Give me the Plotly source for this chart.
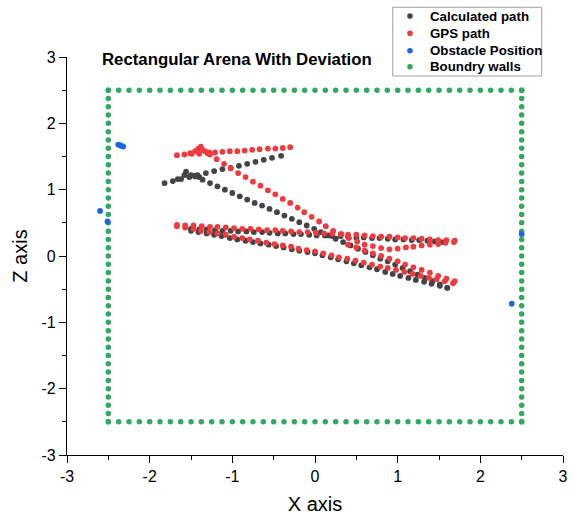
import plotly.graph_objects as go

# ---------------- data ----------------
wall_positions = [-2.5, -2.375, -2.25, -2.125, -2.0, -1.875, -1.75, -1.625, -1.5, -1.375,
                  -1.25, -1.125, -1.0, -0.875, -0.75, -0.625, -0.5, -0.375, -0.25, -0.125,
                  0.0, 0.125, 0.25, 0.375, 0.5, 0.625, 0.75, 0.875, 1.0, 1.125,
                  1.25, 1.375, 1.5, 1.625, 1.75, 1.875, 2.0, 2.125, 2.25, 2.375, 2.5]
wall_edge = 2.5

calc_x = [
    -1.82, -1.72, -1.62, -1.52, -1.42, -1.32, -1.22, -1.12, -1.02, -0.92, -0.82, -0.72, -0.62, -0.52, -0.41,
    -1.66, -1.58, -1.56, -1.50, -1.45, -1.40,
    -1.45, -1.36, -1.27, -1.18, -1.09, -1.00, -0.91, -0.82, -0.73, -0.64, -0.55, -0.46, -0.37, -0.28, -0.19,
    -0.10, -0.01, 0.07, 0.16, 0.25, 0.34, 0.43, 0.52, 0.61, 0.70, 0.79, 0.88, 0.97, 1.06, 1.15, 1.24, 1.33,
    1.42, 1.51, 1.60,
    -1.50, -1.40, -1.31, -1.21, -1.12, -1.02, -0.93, -0.83, -0.74, -0.64, -0.55, -0.45, -0.36, -0.26, -0.17,
    -0.07, 0.02, 0.12, 0.21, 0.31, 0.40, 0.50, 0.59, 0.69, 0.78, 0.88, 0.97, 1.07, 1.17, 1.26, 1.36, 1.45, 1.55,
    -1.50, -1.41, -1.31, -1.22, -1.13, -1.03, -0.94, -0.84, -0.75, -0.66, -0.56, -0.47, -0.38, -0.28, -0.19,
    -0.09, 0.00, 0.09, 0.19, 0.28, 0.38, 0.47, 0.56, 0.66, 0.75, 0.85, 0.94, 1.03, 1.13, 1.22, 1.32, 1.41,
    1.51, 1.60,
]
calc_z = [
    1.10, 1.13, 1.16, 1.19, 1.22, 1.25, 1.28, 1.31, 1.33, 1.36, 1.39, 1.42, 1.45, 1.48, 1.51,
    1.16, 1.22, 1.27, 1.22, 1.21, 1.19,
    1.20, 1.15, 1.10, 1.05, 1.00, 0.95, 0.90, 0.85, 0.80, 0.76, 0.71, 0.66, 0.61, 0.56, 0.51,
    0.46, 0.41, 0.36, 0.31, 0.26, 0.21, 0.16, 0.11, 0.06, 0.01, -0.04, -0.08, -0.13, -0.18, -0.23, -0.28, -0.33,
    -0.38, -0.43, -0.48,
    0.41, 0.40, 0.40, 0.39, 0.38, 0.38, 0.37, 0.37, 0.36, 0.36, 0.35, 0.34, 0.34, 0.33, 0.33,
    0.32, 0.31, 0.31, 0.30, 0.30, 0.29, 0.28, 0.28, 0.27, 0.27, 0.26, 0.25, 0.25, 0.24, 0.24, 0.23, 0.22, 0.21,
    0.38, 0.36, 0.34, 0.32, 0.30, 0.27, 0.25, 0.23, 0.21, 0.19, 0.17, 0.15, 0.13, 0.10, 0.08,
    0.06, 0.04, 0.01, -0.02, -0.05, -0.08, -0.11, -0.14, -0.17, -0.20, -0.24, -0.27, -0.30, -0.33, -0.36, -0.39,
    -0.42, -0.45, -0.48,
]

gps_x = [
    -1.67, -1.58, -1.49, -1.40, -1.30, -1.21, -1.12, -1.03, -0.94, -0.85, -0.76, -0.67, -0.57, -0.48, -0.39, -0.30,
    -1.51, -1.45, -1.41, -1.38, -1.36, -1.33, -1.28,
    -1.27, -1.19, -1.10, -1.02, -0.93, -0.84, -0.75, -0.66, -0.57, -0.48, -0.39, -0.30, -0.21, -0.13, -0.04,
    0.05, 0.13, 0.22, 0.32, 0.41, 0.51, 0.60, 0.70, 0.80, 0.90, 1.00, 1.10, 1.19, 1.29, 1.39, 1.49, 1.58, 1.68,
    -1.67, -1.57, -1.47, -1.37, -1.27, -1.18, -1.08, -0.98, -0.88, -0.78, -0.68, -0.58, -0.48, -0.39, -0.29,
    -0.19, -0.09, 0.01, 0.11, 0.21, 0.31, 0.40, 0.50, 0.60, 0.70, 0.80, 0.90, 1.00, 1.09, 1.19, 1.29, 1.39,
    1.49, 1.59, 1.69,
    -1.67, -1.57, -1.47, -1.38, -1.28, -1.18, -1.08, -0.98, -0.88, -0.79, -0.69, -0.59, -0.49, -0.39, -0.29,
    -0.20, -0.10, 0.00, 0.10, 0.20, 0.29, 0.39, 0.49, 0.59, 0.69, 0.79, 0.88, 0.98, 1.08, 1.18, 1.28, 1.38,
    1.47, 1.57, 1.67,
    0.40, 0.50, 0.60, 0.70, 0.80, 0.90, 1.00, 1.09, 1.19, 1.29, 1.39, 1.49, 1.59, 1.69,
]
gps_z = [
    1.52, 1.53, 1.54, 1.54, 1.55, 1.56, 1.57, 1.58, 1.58, 1.59, 1.60, 1.61, 1.62, 1.62, 1.63, 1.64,
    1.55, 1.58, 1.62, 1.65, 1.60, 1.58, 1.56,
    1.53, 1.46, 1.39, 1.32, 1.25, 1.19, 1.12, 1.06, 0.99, 0.93, 0.86, 0.80, 0.73, 0.66, 0.59,
    0.52, 0.45, 0.38, 0.33, 0.27, 0.22, 0.17, 0.15, 0.12, 0.10, 0.11, 0.13, 0.14, 0.16, 0.17, 0.18, 0.20, 0.21,
    0.47, 0.46, 0.46, 0.45, 0.44, 0.44, 0.43, 0.42, 0.41, 0.41, 0.40, 0.39, 0.39, 0.38, 0.37,
    0.36, 0.36, 0.35, 0.34, 0.34, 0.33, 0.32, 0.32, 0.31, 0.30, 0.29, 0.29, 0.28, 0.27, 0.27, 0.26, 0.25,
    0.24, 0.24, 0.23,
    0.45, 0.43, 0.41, 0.38, 0.36, 0.34, 0.32, 0.29, 0.27, 0.25, 0.23, 0.20, 0.18, 0.16, 0.14,
    0.11, 0.09, 0.07, 0.04, 0.01, -0.02, -0.04, -0.07, -0.10, -0.13, -0.16, -0.18, -0.21, -0.24, -0.27, -0.30,
    -0.33, -0.35, -0.38, -0.41,
    0.17, 0.13, 0.08, 0.04, 0.00, -0.04, -0.08, -0.13, -0.17, -0.21, -0.25, -0.30, -0.34, -0.38,
]

obstacle_x = [-2.60, -2.51, -2.38, -2.36, -2.34, -2.32, 2.50, 2.38]
obstacle_z = [0.68, 0.52, 1.68, 1.67, 1.66, 1.65, 0.33, -0.72]

tick_vals = [-3, -2, -1, 0, 1, 2, 3]
tick_text = ["-3", "-2", "-1", "0", "1", "2", "3"]

series_names = ["Calculated path", "GPS path", "Obstacle Position", "Boundry walls"]
series_colors = ["#444444", "#ef3a3f", "#1d66e3", "#33a862"]

# boundary square built from the wall positions
n = len(wall_positions)
wall_x = wall_positions + [wall_edge] * n + wall_positions + [-wall_edge] * n
wall_z = [wall_edge] * n + wall_positions + [-wall_edge] * n + wall_positions

FONT = "Arial, Liberation Sans, sans-serif"
MS = 5.8

fig = go.Figure()
fig.add_trace(go.Scatter(x=wall_x, y=wall_z, mode="markers", name=series_names[3],
                         marker=dict(color=series_colors[3], size=5.5)))
fig.add_trace(go.Scatter(x=calc_x, y=calc_z, mode="markers", name=series_names[0],
                         marker=dict(color=series_colors[0], size=MS)))
fig.add_trace(go.Scatter(x=gps_x, y=gps_z, mode="markers", name=series_names[1],
                         marker=dict(color=series_colors[1], size=MS)))
fig.add_trace(go.Scatter(x=obstacle_x, y=obstacle_z, mode="markers", name=series_names[2],
                         marker=dict(color=series_colors[2], size=MS)))

axis_common = dict(
    range=[-3, 3], showgrid=False, zeroline=False,
    showline=True, linecolor="black", linewidth=1.3,
    ticks="outside", ticklen=7, tickwidth=1.2, tickcolor="black",
    tickvals=tick_vals, ticktext=tick_text,
    tickfont=dict(family=FONT, size=16, color="black"),
    minor=dict(dtick=0.5, tick0=0, ticks="outside", ticklen=4, tickwidth=1.2, tickcolor="black"),
    mirror=False, automargin=False,
)

# legend box drawn in paper coordinates (compact rows like the reference)
leg_x0, leg_x1, leg_y0, leg_y1 = 0.6567, 0.957, 0.9523, 1.1249
leg_marker_x, leg_text_x = 0.6915, 0.7278
leg_rows = [1.103, 1.0596, 1.0158, 0.9756]

shapes = [dict(type="rect", xref="paper", yref="paper", x0=leg_x0, x1=leg_x1, y0=leg_y0, y1=leg_y1,
               line=dict(color="#a0a0a0", width=1), fillcolor="white", layer="above")]
annotations = [dict(text="<b>Rectangular Arena With Deviation</b>", xref="paper", yref="paper",
                    x=0.0665, y=0.9925, xanchor="left", yanchor="middle", showarrow=False,
                    font=dict(family=FONT, size=16.8, color="black"))]
for name, color, ry in zip(series_names, series_colors, leg_rows):
    shapes.append(dict(type="circle", xref="paper", yref="paper",
                       xsizemode="pixel", ysizemode="pixel", xanchor=leg_marker_x, yanchor=ry,
                       x0=-2.8, x1=2.8, y0=-2.8, y1=2.8,
                       fillcolor=color, line=dict(width=0), layer="above"))
    annotations.append(dict(text="<b>" + name + "</b>", xref="paper", yref="paper",
                            x=leg_text_x, y=ry, xanchor="left", yanchor="middle", showarrow=False,
                            font=dict(family=FONT, size=13.3, color="black")))

fig.update_layout(
    width=574, height=519,
    margin=dict(l=67, r=11, t=57, b=64),
    paper_bgcolor="white", plot_bgcolor="white",
    xaxis=dict(axis_common, title=dict(text="X axis", font=dict(family=FONT, size=20, color="black"), standoff=12)),
    yaxis=dict(axis_common, title=dict(text="Z axis", font=dict(family=FONT, size=20, color="black"), standoff=8)),
    showlegend=False,
    shapes=shapes,
    annotations=annotations,
)

fig.write_html("out.html", config={"displayModeBar": False},
               post_script="document.body.style.margin='0px';document.body.style.padding='0px';")
